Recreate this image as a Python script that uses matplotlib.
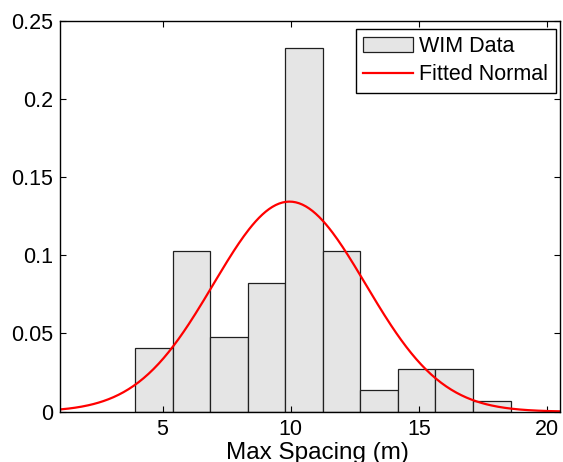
import numpy as np
import matplotlib
matplotlib.use("Agg")
import matplotlib.pyplot as plt

plt.rcParams['font.family'] = ['Liberation Sans', 'DejaVu Sans']

# histogram (density per bin)
bin_left = 3.93
bin_width = 1.464
density = [0.041, 0.1025, 0.048, 0.082, 0.2325, 0.1025, 0.0137, 0.0273, 0.0273, 0.0068]

# fitted normal parameters
mu = 9.95
sigma = 2.97

xticks = [5, 10, 15, 20]
yticks = [0, 0.05, 0.1, 0.15, 0.2, 0.25]
ytick_labels = ['0', '0.05', '0.1', '0.15', '0.2', '0.25']

fig = plt.figure(figsize=(5.63, 4.62), dpi=100)
ax = fig.add_axes([0.1066, 0.1089, 0.8881, 0.8463])

edges = bin_left + bin_width * np.arange(len(density))
bars = ax.bar(edges, density, width=bin_width, align='edge', color='#e5e5e5',
              edgecolor='#202020', linewidth=0.9, label='WIM Data')

xs = np.linspace(1.0, 20.5, 300)
pdf = np.exp(-0.5 * ((xs - mu) / sigma) ** 2) / (sigma * np.sqrt(2 * np.pi))
line, = ax.plot(xs, pdf, color='red', linewidth=1.6, label='Fitted Normal')

ax.set_xlim(1.0, 20.5)
ax.set_ylim(0, 0.25)
ax.set_xticks(xticks)
ax.set_yticks(yticks)
ax.set_yticklabels(ytick_labels)
ax.tick_params(direction='in', length=4, width=0.8, top=True, right=True,
               labelsize=15.5, pad=5)
ax.tick_params(axis='x', pad=5)
for s in ax.spines.values():
    s.set_linewidth(1.0)

ax.set_xlabel('Max Spacing (m)', fontsize=17.5)
ax.xaxis.set_label_coords(0.515, -0.077)

leg = ax.legend([bars, line], ['WIM Data', 'Fitted Normal'],
                loc='upper right', bbox_to_anchor=(0.991, 0.979), fontsize=15.5,
                fancybox=False, framealpha=1, edgecolor='black',
                handlelength=2.3, handletextpad=0.28, labelspacing=0.32,
                borderpad=0.35, borderaxespad=0)
leg.get_frame().set_linewidth(1.0)

fig.savefig('out.png', dpi=100)
